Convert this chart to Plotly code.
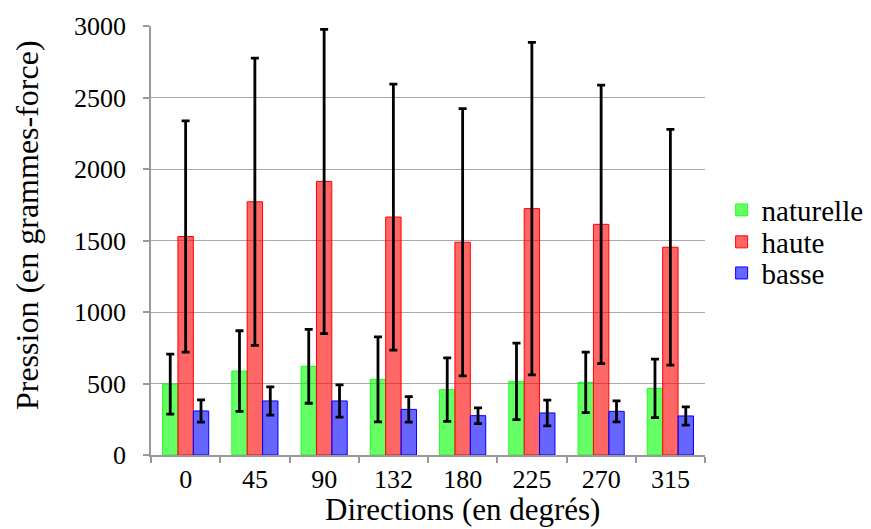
import plotly.graph_objects as go

directions = ["0", "45", "90", "132", "180", "225", "270", "315"]
naturelle = [496, 587, 620, 529, 457, 515, 508, 466]
naturelle_err = [210, 282, 258, 297, 222, 267, 211, 205]
haute = [1528, 1771, 1913, 1664, 1488, 1723, 1613, 1453]
haute_err = [808, 1005, 1064, 930, 934, 1163, 974, 824]
basse = [308, 378, 378, 319, 275, 294, 305, 273]
basse_err = [78, 99, 113, 89, 55, 90, 73, 64]
y_ticks = [0, 500, 1000, 1500, 2000, 2500, 3000]

FONT = "Liberation Serif"
TXT = 31
LEG = 29
TICK = 26

series = [
    ("naturelle", naturelle, naturelle_err, "rgba(0,255,0,0.6)", "rgba(0,255,0,0.8)", "legend", 0.571),
    ("haute", haute, haute_err, "rgba(255,0,0,0.6)", "rgba(255,0,0,1)", "legend2", 0.4965),
    ("basse", basse, basse_err, "rgba(0,0,255,0.6)", "rgba(0,0,255,1)", "legend3", 0.424),
]

fig = go.Figure()
legends = {}
for name, vals, errs, fill, line, leg, ly in series:
    fig.add_trace(go.Bar(
        name=name, x=directions, y=vals, legend=leg,
        marker=dict(color=fill, line=dict(color=line, width=1)),
        error_y=dict(type="data", array=errs, visible=True,
                     color="black", thickness=2.8, width=4),
    ))
    legends[leg] = dict(x=1.03, y=ly, yanchor="middle", xanchor="left",
                        font=dict(family=FONT, size=LEG, color="black"),
                        itemwidth=30, bgcolor="rgba(0,0,0,0)")

fig.update_layout(
    width=871, height=529,
    barmode="group", bargap=0.333, bargroupgap=0,
    plot_bgcolor="white", paper_bgcolor="white",
    margin=dict(l=143, r=174, t=18, b=82, autoexpand=False),
    font=dict(family=FONT, size=TXT, color="black"),
    showlegend=True,
    **legends,
    xaxis=dict(
        type="category", automargin=False,
        showline=True, linecolor="#999999", linewidth=1.5,
        ticks="outside", tickson="boundaries", ticklen=6, tickcolor="#999999", tickwidth=1.5,
        tickfont=dict(family=FONT, size=TICK, color="black"),
    ),
    yaxis=dict(
        range=[0, 3000], tickvals=y_ticks, automargin=False,
        showline=True, linecolor="#999999", linewidth=1.5,
        ticks="outside", ticklen=6, tickcolor="#999999", tickwidth=1.5,
        showgrid=True, gridcolor="#aaaaaa", gridwidth=1,
        zeroline=False,
        tickfont=dict(family=FONT, size=TICK, color="black"),
        ticklabelstandoff=12,
    ),
    annotations=[
        dict(text="Directions (en degrés)", xref="paper", yref="paper",
             x=0.5614, y=-0.128, xanchor="center", yanchor="middle",
             showarrow=False, font=dict(family=FONT, size=TXT, color="black")),
        dict(text="Pression (en grammes-force)", xref="paper", yref="paper",
             x=-0.2238, y=0.536, xanchor="center", yanchor="middle", textangle=-90,
             showarrow=False, font=dict(family=FONT, size=32, color="black")),
    ],
)

fig.write_html("out.html")
